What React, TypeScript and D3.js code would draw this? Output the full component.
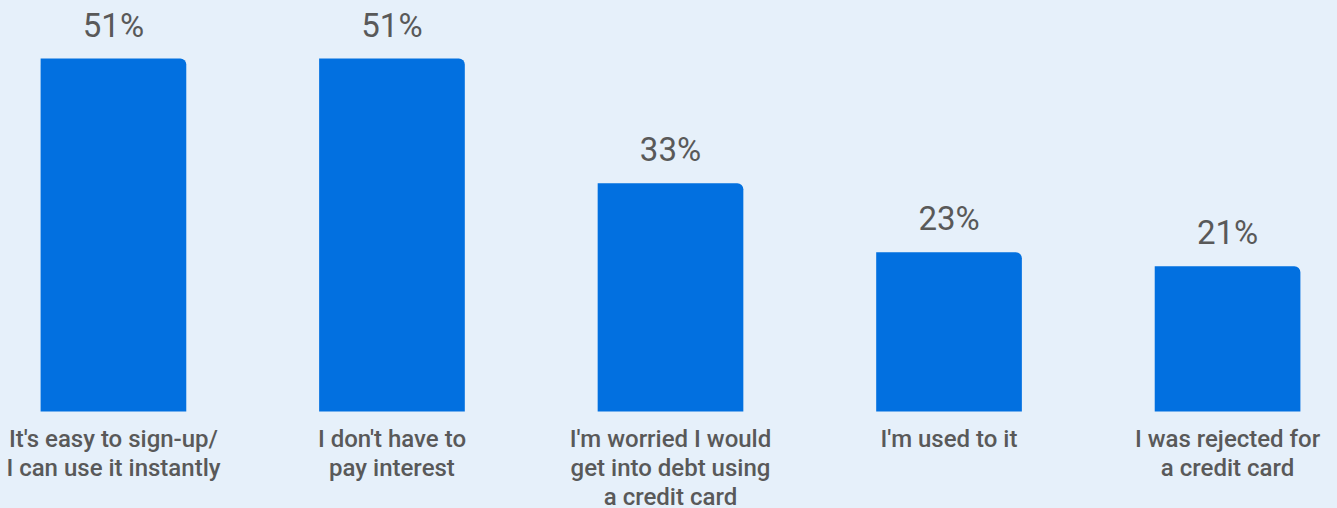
import React from "react";
import * as d3 from "d3";

const categories = [
  "It's easy to sign-up/|I can use it instantly",
  "I don't have to|pay interest",
  "I'm worried I would|get into debt using|a credit card",
  "I'm used to it",
  "I was rejected for|a credit card",
];
const values = [51, 51, 33, 23, 21];

const W = 1337;
const H = 508;
const BASE = 411.5;
const PX_PER = 6.92;

export default function App() {
  const x = d3
    .scaleBand<string>()
    .domain(categories)
    .range([3, 1338])
    .paddingInner(0.477)
    .paddingOuter(0.135);
  const y = d3.scaleLinear().domain([0, 1]).range([BASE, BASE - PX_PER]);
  const bw = x.bandwidth();
  const r = 6;

  return (
    <svg
      width={W}
      height={H}
      style={{ position: "absolute", left: 0, top: 0, display: "block" }}
      fontFamily="Roboto, sans-serif"
    >
      <rect width={W} height={H} fill="#e6f0fa" />
      {categories.map((c, i) => {
        const x0 = x(c)!;
        const x1 = x0 + bw;
        const yt = y(values[i]);
        const p = d3.path();
        p.moveTo(x0, BASE);
        p.lineTo(x0, yt);
        p.lineTo(x1 - r, yt);
        p.arcTo(x1, yt, x1, yt + r, r);
        p.lineTo(x1, BASE);
        p.closePath();
        const lines = c.split("|");
        return (
          <g key={c}>
            <path d={p.toString()} fill="#0270e0" />
            <text
              x={x0 + bw / 2}
              y={yt - 22}
              textAnchor="middle"
              fontSize={33}
              fill="#595959"
            >
              {values[i]}%
            </text>
            {lines.map((l, j) => (
              <text
                key={j}
                x={x0 + bw / 2}
                y={447 + j * 29}
                textAnchor="middle"
                fontSize={24}
                fontWeight={500}
                fill="#595959"
              >
                {l}
              </text>
            ))}
          </g>
        );
      })}
    </svg>
  );
}
